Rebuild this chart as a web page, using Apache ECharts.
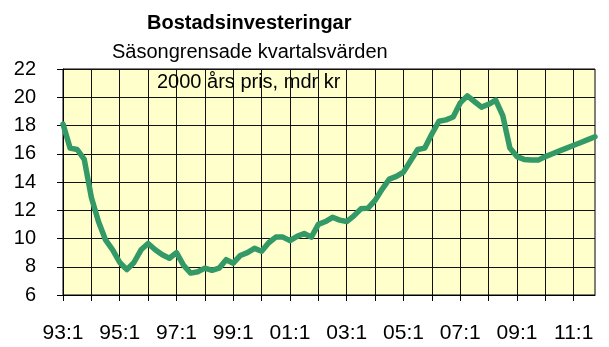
<!DOCTYPE html>
<html>
<head>
<meta charset="utf-8">
<script src="https://cdn.jsdelivr.net/npm/echarts@6/dist/echarts.min.js"></script>
<style>
  html, body { margin: 0; padding: 0; background: #ffffff; }
  #chart { width: 609px; height: 347px; }
</style>
</head>
<body>
<div id="chart"></div>
<script>
// Quarterly housing investment, seasonally adjusted, 2000 prices (bn SEK)
const years = ['93','94','95','96','97','98','99','00','01','02','03','04','05','06','07','08','09','10','11'];
const quarters = ['1','2','3','4'];
const values = [
  18.1, 16.4, 16.3, 15.6, 12.9, 11.2, 9.9, 9.2,
  8.3, 7.8, 8.3, 9.2, 9.65, 9.2, 8.85, 8.6,
  9.0, 8.1, 7.55, 7.65, 7.9, 7.75, 7.9, 8.5,
  8.25, 8.8, 9.0, 9.3, 9.1, 9.7, 10.1, 10.1,
  9.85, 10.15, 10.35, 10.1, 11.0, 11.2, 11.5, 11.3,
  11.2, 11.6, 12.1, 12.15, 12.7, 13.5, 14.2, 14.4,
  14.7, 15.5, 16.3, 16.4, 17.4, 18.3, 18.4, 18.6,
  19.6, 20.1, 19.7, 19.3, 19.5, 19.8, 18.7, 16.4,
  15.8, 15.6, 15.55, 15.55, 15.8, 16.0, 16.2, 16.4,
  16.6, 16.8, 17.0, 17.2
];
const yTicks = { min: 6, max: 22, step: 2 };
const titleText = 'Bostadsinvesteringar';
const subtitleText = 'Säsongrensade kvartalsvärden';
const unitText = '2000 års pris, mdr kr';

const categories = [];
years.forEach(y => quarters.forEach(q => categories.push(y + ':' + q)));

const chart = echarts.init(document.getElementById('chart'), null, { renderer: 'canvas' });
const font = 'Liberation Sans, Arial, sans-serif';

chart.setOption({
  animation: false,
  backgroundColor: '#ffffff',
  grid: {
    left: 63, right: 14, top: 69, bottom: 52,
    show: true, backgroundColor: '#FFFFCC', borderColor: '#000', borderWidth: 1
  },
  graphic: [
    { type: 'text', left: 250 - 103, top: 13,
      style: { text: titleText, font: 'bold 20px ' + font, fill: '#000' } },
    { type: 'text', left: 250 - 138, top: 42,
      style: { text: subtitleText, font: '20px ' + font, fill: '#000' } },
    { type: 'text', left: 250 - 93, top: 72,
      style: { text: unitText, font: '20px ' + font, fill: '#000' }, z: 10 }
  ],
  xAxis: {
    type: 'category',
    data: categories,
    boundaryGap: false,
    axisLine: { lineStyle: { color: '#000', width: 1 } },
    axisTick: { show: true, interval: 3, length: 6, inside: false, lineStyle: { color: '#000' } },
    axisLabel: { interval: 7, margin: 28, color: '#000', fontSize: 21, fontFamily: font },
    splitLine: { show: true, interval: 3, lineStyle: { color: '#111', width: 1 } }
  },
  yAxis: {
    type: 'value',
    min: yTicks.min, max: yTicks.max, interval: yTicks.step,
    axisLine: { show: true, lineStyle: { color: '#000', width: 1 } },
    axisTick: { show: true, length: 6, lineStyle: { color: '#000' } },
    axisLabel: { margin: 27, color: '#000', fontSize: 20, fontFamily: font },
    splitLine: { show: true, lineStyle: { color: '#111', width: 1 } }
  },
  series: [{
    type: 'line',
    data: values,
    showSymbol: false,
    smooth: false,
    lineStyle: { color: '#339966', width: 5.5, join: 'round', cap: 'round' },
    z: 5
  }]
});
</script>
</body>
</html>
